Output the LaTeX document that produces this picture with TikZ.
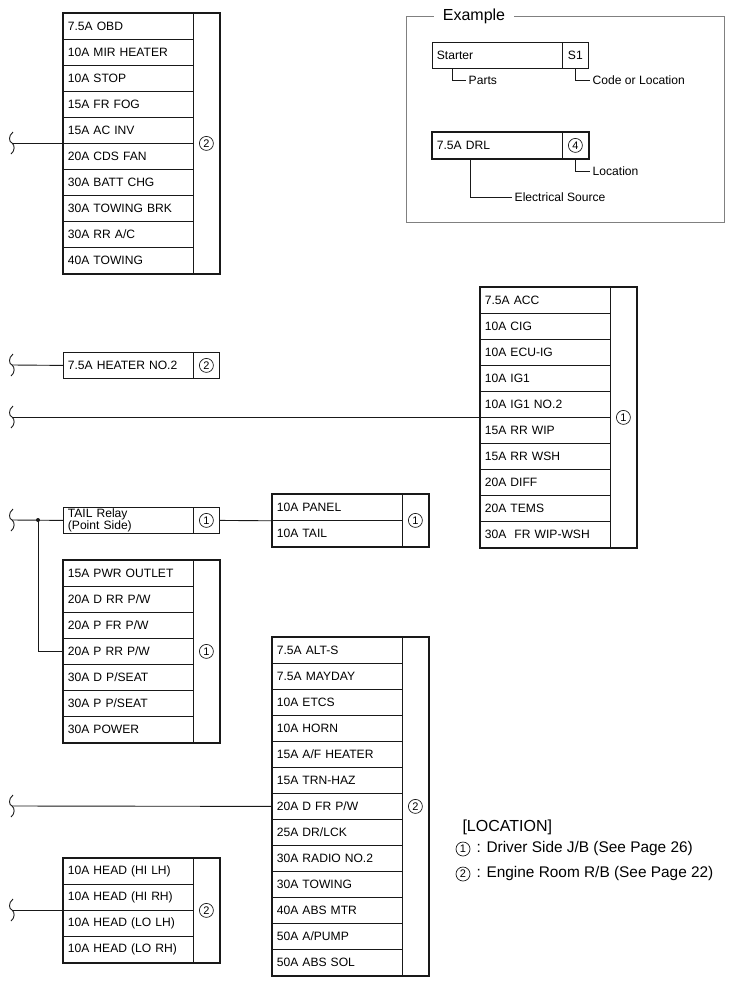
\documentclass[tikz,border=0pt]{standalone}
\usepackage{fontspec}
\setmainfont{Liberation Sans}
\usetikzlibrary{positioning, calc}
\definecolor{frameink}{RGB}{128, 128, 128}
\definecolor{wireink}{RGB}{25, 25, 25}

\tikzset{
  fuse/.style={draw=wireink, line width=0.8pt, anchor=north west, minimum height=26pt,
    text width=121pt, inner xsep=4.5pt, inner ysep=0pt, align=left,
    font=\fontsize{12.1}{11}\selectfont},
  loccol/.style={draw=wireink, line width=0.8pt, anchor=north west, minimum width=26pt,
    inner sep=0pt, font=\fontsize{12.1}{11}\selectfont},
  locmark/.style={circle, draw=wireink, line width=0.7pt, minimum size=14pt, inner sep=0pt,
    font=\fontsize{11}{11}\selectfont},
  blockedge/.style={draw=wireink, line width=2pt},
  wire/.style={draw=wireink, line width=0.9pt},
  tag/.style={anchor=west, inner xsep=2.5pt, font=\fontsize{12.1}{13}\selectfont},
  wirebreak/.pic={\draw[wire] (1,-11) .. controls (-4,-7) and (-3,-1) .. (0,0)
    .. controls (3,2) and (3,8) .. (-1,11);}
}

\begin{document}
\begin{tikzpicture}[x=1pt, y=-1pt]
    \useasboundingbox (0,0) rectangle (734,985);

        % Block 1 (engine room)
        \foreach \t [count=\i] in {7.5A OBD, 10A MIR HEATER, 10A STOP, 15A FR FOG, 15A AC INV,
            20A CDS FAN, 30A BATT CHG, 30A TOWING BRK, 30A RR A/C, 40A TOWING}
            \node[fuse] (a\i) at (63,{13+26*(\i-1)}) {\t};
        \node[loccol, minimum height=260pt] (acol) at (193,13) {};
        \node[locmark] (aloc) at (acol.center) {2};
        \draw[blockedge] (a1.north west) rectangle (acol.south east);
        \coordinate (abrk) at (12,143);
        \pic at (abrk) {wirebreak};
        \draw[wire] (abrk) -- (a6.north west);

        % Example
        \node[font=\fontsize{16}{16}\selectfont, inner xsep=9pt] (extitle) at (474,16) {Example};
        \draw[frameink, line width=0.9pt] (extitle.west) -| (406,222) -| (724,16) -- (extitle.east);

        \node[fuse, line width=0.7pt] (starter) at (432,42) {Starter};
        \node[loccol, line width=0.7pt, minimum height=26pt] (startercol) at (562,42) {S1};
        \node[tag] (parts) at (466,80) {Parts};
        \draw[wire] (starter.south west) ++(20,0) |- (parts.west);
        \node[tag] (codeloc) at (590,80) {Code or Location};
        \draw[wire] (startercol.south) |- (codeloc.west);

        \node[fuse] (drl) at (432,132) {7.5A DRL};
        \node[loccol, minimum height=26pt] (drlcol) at (562,132) {};
        \node[locmark] (drlloc) at (drlcol.center) {4};
        \draw[blockedge] (drl.north west) rectangle (drlcol.south east);
        \node[tag] (location) at (590,171) {Location};
        \draw[wire] (drlcol.south) |- (location.west);
        \node[tag] (elsrc) at (512,197) {Electrical Source};
        \draw[wire] (drl.south west) ++(38,0) |- (elsrc.west);

        % Heater no.2
        \node[fuse] (h1) at (63,352) {7.5A HEATER NO.2};
        \node[loccol, minimum height=26pt] (hcol) at (193,352) {};
        \node[locmark] (hloc) at (hcol.center) {2};
        \coordinate (hbrk) at (12,365);
        \pic at (hbrk) {wirebreak};
        \draw[wire] (hbrk) -- (h1.west);

        % Block 2 (driver side)
        \foreach \t [count=\i] in {7.5A ACC, 10A CIG, 10A ECU-IG, 10A IG1, 10A IG1 NO.2,
            15A RR WIP, 15A RR WSH, 20A DIFF, 20A TEMS, 30A\ \ FR WIP-WSH}
            \node[fuse] (b\i) at (480,{287+26*(\i-1)}) {\t};
        \node[loccol, minimum height=260pt] (bcol) at (610,287) {};
        \node[locmark] (bloc) at (bcol.center) {1};
        \draw[blockedge] (b1.north west) rectangle (bcol.south east);
        \coordinate (bbrk) at (12,417);
        \pic at (bbrk) {wirebreak};
        \draw[wire] (bbrk) -- (b6.north west);

        % Panel / tail
        \foreach \t [count=\i] in {10A PANEL, 10A TAIL}
            \node[fuse] (p\i) at (272,{494+26*(\i-1)}) {\t};
        \node[loccol, minimum height=52pt] (pcol) at (402,494) {};
        \node[locmark] (ploc) at (pcol.center) {1};
        \draw[blockedge] (p1.north west) rectangle (pcol.south east);

        % Block 3 (driver side)
        \foreach \t [count=\i] in {15A PWR OUTLET, 20A D RR P/W, 20A P FR P/W, 20A P RR P/W,
            30A D P/SEAT, 30A P P/SEAT, 30A POWER}
            \node[fuse] (c\i) at (63,{560+26*(\i-1)}) {\t};
        \node[loccol, minimum height=182pt] (ccol) at (193,560) {};
        \node[locmark] (cloc) at (ccol.center) {1};
        \draw[blockedge] (c1.north west) rectangle (ccol.south east);

        % Tail relay
        \node[fuse] (tail) at (63,507) {TAIL Relay\\(Point Side)};
        \node[loccol, minimum height=26pt] (tailcol) at (193,507) {};
        \node[locmark] (tailloc) at (tailcol.center) {1};
        \coordinate (tbrk) at (12,520);
        \coordinate (tjoin) at (38,520);
        \pic at (tbrk) {wirebreak};
        \draw[wire] (tbrk) -- (tail.west);
        \fill[wireink] (tjoin) circle (2);
        \draw[wire] (tjoin) |- (c4.west);
        \draw[wire] (tailcol.east) -- (p1.south west);

        % Block 4 (engine room)
        \foreach \t [count=\i] in {7.5A ALT-S, 7.5A MAYDAY, 10A ETCS, 10A HORN, 15A A/F HEATER,
            15A TRN-HAZ, 20A D FR P/W, 25A DR/LCK, 30A RADIO NO.2, 30A TOWING,
            40A ABS MTR, 50A A/PUMP, 50A ABS SOL}
            \node[fuse] (d\i) at (272,{637+26*(\i-1)}) {\t};
        \node[loccol, minimum height=338pt] (dcol) at (402,637) {};
        \node[locmark] (dloc) at (dcol.center) {2};
        \draw[blockedge] (d1.north west) rectangle (dcol.south east);
        \coordinate (dbrk) at (12,806);
        \pic at (dbrk) {wirebreak};
        \draw[wire] (dbrk) -- (d7.west);

        % Head lamps
        \foreach \t [count=\i] in {10A HEAD (HI LH), 10A HEAD (HI RH), 10A HEAD (LO LH), 10A HEAD (LO RH)}
            \node[fuse] (e\i) at (63,{858+26*(\i-1)}) {\t};
        \node[loccol, minimum height=104pt] (ecol) at (193,858) {};
        \node[locmark] (eloc) at (ecol.center) {2};
        \draw[blockedge] (e1.north west) rectangle (ecol.south east);
        \coordinate (ebrk) at (12,910);
        \pic at (ebrk) {wirebreak};
        \draw[wire] (ebrk) -- (e3.north west);

        % Legend
        \node[anchor=west, font=\fontsize{16}{16}\selectfont] (legtitle) at (459,827) {[LOCATION]};
        \node[locmark] (leg1) at (463,849) {1};
        \node[anchor=west, inner xsep=6pt, font=\fontsize{15.4}{15}\selectfont] (leg1t) at (leg1.east)
            {: Driver Side J/B (See Page 26)};
        \node[locmark] (leg2) at (463,874) {2};
        \node[anchor=west, inner xsep=6pt, font=\fontsize{15.4}{15}\selectfont] (leg2t) at (leg2.east)
            {: Engine Room R/B (See Page 22)};

    \end{tikzpicture}
\end{document}
